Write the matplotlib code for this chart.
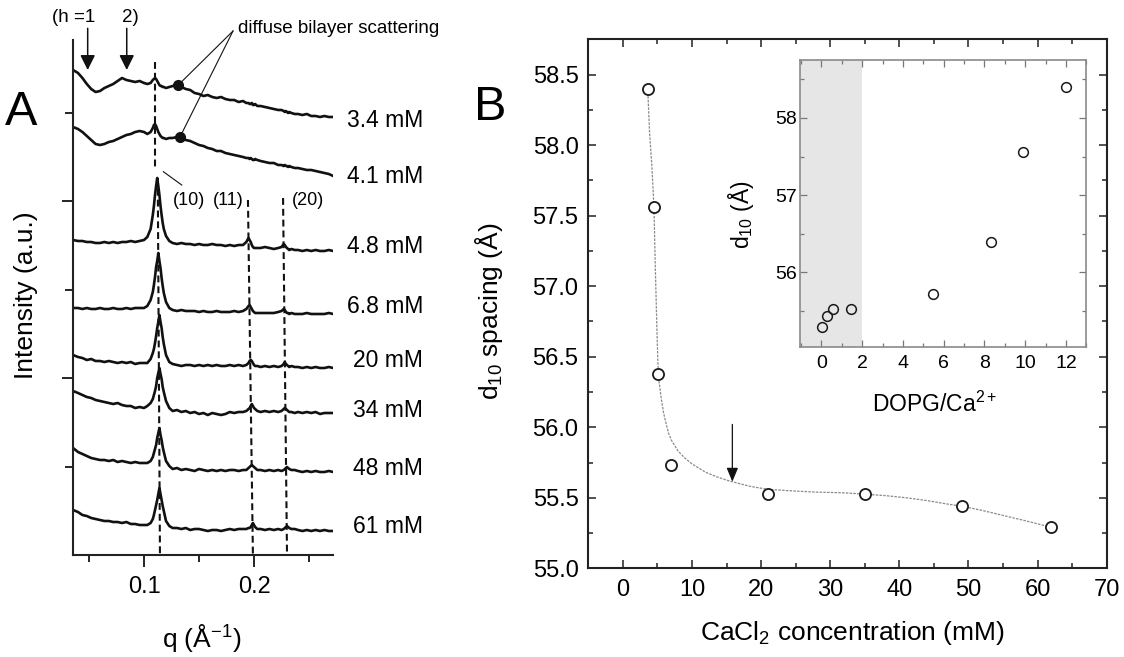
import matplotlib
matplotlib.use('Agg')
import matplotlib.pyplot as plt
from matplotlib.ticker import MultipleLocator, FixedLocator, FormatStrFormatter, NullFormatter

plt.rcParams['font.family'] = ['Liberation Sans', 'DejaVu Sans']
plt.rcParams['mathtext.fontset'] = 'custom'
plt.rcParams['mathtext.rm'] = 'Liberation Sans'
plt.rcParams['mathtext.it'] = 'Liberation Sans:italic'
plt.rcParams['mathtext.bf'] = 'Liberation Sans:bold'
plt.rcParams['mathtext.default'] = 'regular'

# ---------------- Panel A data: SAXS traces (stacked, arbitrary units) ----------------
Q = [0.0355, 0.040, 0.044, 0.048, 0.052, 0.056, 0.060, 0.064, 0.068, 0.072,
     0.076, 0.080, 0.084, 0.088, 0.092, 0.096, 0.100, 0.103, 0.106, 0.108,
     0.109, 0.110, 0.111, 0.112, 0.113, 0.114, 0.115, 0.116, 0.117, 0.118,
     0.120, 0.123, 0.126, 0.130, 0.134, 0.138, 0.142, 0.146, 0.150, 0.154,
     0.158, 0.162, 0.166, 0.170, 0.174, 0.178, 0.182, 0.186, 0.190, 0.193,
     0.195, 0.196, 0.197, 0.198, 0.199, 0.200, 0.201, 0.203, 0.206, 0.210,
     0.214, 0.218, 0.222, 0.225, 0.227, 0.228, 0.229, 0.230, 0.231, 0.232,
     0.234, 0.237, 0.240, 0.244, 0.248, 0.252, 0.256, 0.260, 0.264, 0.268, 0.272]

I_3_4 = [485, 482, 477, 471, 466, 463, 464, 467, 469, 471,
         474, 477, 475, 474, 473, 474, 472, 471, 472, 475,
         476, 477, 476, 474, 472, 470, 469, 469, 468, 468,
         467, 468, 469, 470, 468, 466, 465, 462, 461, 459,
         460, 458, 457, 458, 456, 455, 455, 453, 454, 452,
         452, 451, 451, 452, 450, 450, 451, 449, 449, 448,
         447, 446, 445, 445, 444, 443, 444, 443, 442, 443,
         442, 441, 441, 440, 441, 439, 439, 438, 439, 438, 438]
I_4_1 = [428, 426, 423, 419, 415, 411, 410, 411, 413, 414,
         416, 418, 420, 421, 423, 424, 423, 421, 423, 427,
         430, 431, 429, 426, 423, 421, 419, 418, 417, 417,
         416, 417, 417, 418, 417, 415, 414, 412, 410, 409,
         407, 406, 404, 404, 402, 401, 400, 399, 398, 397,
         397, 396, 397, 396, 395, 395, 396, 395, 394, 393,
         392, 392, 390, 390, 389, 390, 389, 389, 388, 389,
         388, 387, 387, 386, 385, 385, 384, 383, 382, 381, 379]
I_4_8 = [315, 314, 314, 313, 313, 312, 312, 313, 312, 313,
         312, 313, 313, 314, 313, 314, 315, 318, 326, 340,
         349, 360, 369, 377, 369, 360, 349, 340, 332, 326,
         319, 314, 312, 311, 312, 311, 311, 310, 311, 310,
         310, 311, 310, 310, 309, 310, 309, 310, 310, 313,
         317, 315, 313, 310, 308, 307, 307, 307, 307, 308,
         307, 306, 307, 308, 311, 310, 308, 307, 306, 305,
         306, 305, 305, 304, 305, 304, 305, 304, 304, 305, 304]
I_6_8 = [247, 247, 246, 247, 246, 246, 247, 246, 246, 247,
         246, 246, 247, 246, 247, 247, 247, 249, 255, 263,
         270, 278, 288, 294, 302, 294, 287, 277, 269, 262,
         253, 247, 245, 244, 245, 244, 244, 244, 243, 244,
         243, 243, 244, 243, 243, 243, 244, 243, 244, 246,
         249, 250, 248, 246, 244, 243, 242, 242, 242, 242,
         242, 242, 243, 244, 246, 245, 243, 242, 242, 241,
         242, 241, 241, 241, 242, 241, 241, 241, 241, 242, 241]
I_20 = [200, 198, 197, 195, 196, 194, 194, 193, 194, 193,
        192, 193, 192, 193, 191, 192, 192, 192, 196, 202,
        206, 212, 219, 227, 233, 240, 233, 227, 218, 211,
        200, 193, 191, 190, 189, 190, 190, 189, 190, 189,
        190, 189, 190, 189, 189, 190, 189, 190, 189, 190,
        192, 194, 195, 194, 192, 190, 189, 189, 188, 189,
        188, 189, 188, 189, 191, 193, 191, 190, 189, 188,
        189, 188, 188, 187, 188, 187, 188, 187, 187, 188, 187]
I_34 = [164, 162, 160, 158, 157, 155, 154, 153, 152, 151,
        152, 150, 149, 149, 147, 148, 147, 149, 152, 156,
        160, 164, 169, 177, 182, 187, 181, 176, 168, 163,
        154, 147, 144, 145, 143, 144, 142, 143, 141, 142,
        140, 142, 141, 140, 141, 143, 142, 143, 143, 144,
        146, 147, 149, 151, 149, 147, 146, 144, 143, 144,
        143, 144, 143, 144, 146, 147, 146, 145, 144, 143,
        143, 142, 143, 142, 143, 142, 143, 141, 142, 142, 142]
I_48 = [107, 103, 101, 99, 97, 96, 95, 95, 94, 95,
        93, 94, 93, 92, 93, 92, 92, 92, 94, 98,
        102, 106, 110, 117, 122, 127, 120, 115, 108, 103,
        94, 89, 86, 87, 85, 86, 85, 84, 86, 85,
        84, 85, 84, 85, 84, 85, 85, 84, 85, 85,
        87, 88, 89, 90, 89, 88, 87, 85, 85, 84,
        85, 84, 85, 84, 85, 86, 87, 88, 87, 86,
        85, 85, 84, 83, 84, 83, 84, 83, 83, 84, 83]
I_61 = [45, 43, 40, 39, 37, 36, 35, 34, 34, 33,
        33, 32, 33, 31, 31, 30, 30, 30, 32, 36,
        40, 45, 50, 55, 61, 67, 61, 55, 49, 44,
        34, 29, 27, 27, 26, 27, 25, 26, 26, 25,
        24, 25, 25, 24, 25, 26, 25, 26, 26, 26,
        27, 27, 28, 30, 32, 30, 28, 26, 26, 25,
        26, 25, 26, 25, 26, 27, 28, 29, 28, 27,
        26, 26, 25, 24, 25, 24, 25, 24, 25, 24, 24]

CURVES = [I_3_4, I_4_1, I_4_8, I_6_8, I_20, I_34, I_48, I_61]
CONC_LABELS = ['3.4 mM', '4.1 mM', '4.8 mM', '6.8 mM', '20 mM', '34 mM', '48 mM', '61 mM']

# peak-position guide lines (q, intensity end points)
GUIDE_10_UPPER_Q = [0.110, 0.110]
GUIDE_10_UPPER_I = [493, 385]
GUIDE_10_Q = [0.1125, 0.1145]
GUIDE_10_I = [377, 0]
GUIDE_11_Q = [0.1945, 0.199]
GUIDE_11_I = [355, 0]
GUIDE_20_Q = [0.2264, 0.230]
GUIDE_20_I = [357, 0]
PEAK_LABELS = ['(10)', '(11)', '(20)']

# lamellar (h = 1, 2) arrows and diffuse scattering markers
H_ARROW_Q = [0.0488, 0.0843]
H_ARROW_TOP = 526.7
H_ARROW_TIP = 485
DIFFUSE_Q = [0.1312, 0.1327]
DIFFUSE_I = [470, 418]
DIFFUSE_ORIGIN_Q = 0.1809
DIFFUSE_ORIGIN_I = 524

# ---------------- Panel B data ----------------
CACL2_MM = [3.6, 4.5, 5.1, 7.0, 21.0, 35.1, 49.1, 62.0]
D10 = [58.40, 57.56, 56.38, 55.73, 55.53, 55.53, 55.44, 55.29]
FIT_X = [3.6, 3.86, 4.2, 4.5, 4.69, 4.93, 5.07, 5.25, 5.56, 5.9, 6.28, 6.6, 7.0, 7.5,
         8.0, 9.0, 10.0, 11.0, 12.0, 13.5, 15.0, 16.5, 18.5, 21.0, 24.0, 28.0, 32.0,
         35.1, 38.0, 41.0, 44.0, 47.0, 49.1, 52.0, 55.0, 58.0, 62.0]
FIT_D = [58.40, 58.09, 57.85, 57.56, 57.14, 56.69, 56.45, 56.32, 56.20, 56.10, 56.02,
         55.96, 55.91, 55.87, 55.83, 55.78, 55.74, 55.71, 55.68, 55.65, 55.625, 55.605,
         55.58, 55.56, 55.55, 55.54, 55.535, 55.525, 55.515, 55.50, 55.48, 55.455,
         55.44, 55.41, 55.375, 55.34, 55.29]
ARROW_MM = 15.84
ARROW_D_TOP = 56.02
ARROW_D_TIP = 55.614

# inset: same d10 values against DOPG/Ca2+ ratio
RATIO = [12.0, 9.9, 8.3, 5.5, 1.47, 0.57, 0.26, 0.04]
D10_INSET = [58.40, 57.56, 56.39, 55.72, 55.53, 55.53, 55.44, 55.29]
SHADE_RATIO_MAX = 2.0

# ---------------- layout helpers ----------------
W, H = 1124, 657
def fx(px):
    return px / W
def fy(py):
    return 1 - py / H

fig = plt.figure(figsize=(W / 100, H / 100), dpi=100)
INK = '#111111'

# ================= Panel A =================
axA = fig.add_axes([fx(73), fy(555), (333 - 73) / W, (555 - 40) / H])
for I in CURVES:
    axA.plot(Q, I, color=INK, lw=1.9, solid_joinstyle='round')
axA.set_xlim(0.03545, 0.2718)
axA.set_ylim(0, 515)
for s in ['top', 'right']:
    axA.spines[s].set_visible(False)
for s in ['left', 'bottom']:
    axA.spines[s].set_linewidth(1.5)
    axA.spines[s].set_color('#222222')
axA.xaxis.set_major_locator(FixedLocator([0.1, 0.2]))
axA.xaxis.set_minor_locator(FixedLocator([0.05, 0.15, 0.25]))
axA.xaxis.set_major_formatter(FormatStrFormatter('%.1f'))
axA.yaxis.set_major_locator(FixedLocator([177, 354]))
axA.yaxis.set_minor_locator(FixedLocator([88.5, 265.5, 442.5]))
axA.yaxis.set_major_formatter(NullFormatter())
axA.tick_params(axis='x', which='major', direction='out', length=8.4, width=1.2,
                labelsize=17, pad=7.0)
axA.tick_params(axis='x', which='minor', direction='out', length=5, width=1.2)
axA.tick_params(axis='y', which='major', direction='out', length=8, width=1.2)
axA.tick_params(axis='y', which='minor', direction='out', length=5.8, width=1.2)

dash_kw = dict(color=INK, lw=1.5, dashes=(3.3, 1.9), clip_on=False)
axA.plot(GUIDE_10_UPPER_Q, GUIDE_10_UPPER_I, **dash_kw)
axA.plot(GUIDE_10_Q, GUIDE_10_I, **dash_kw)
axA.plot(GUIDE_11_Q, GUIDE_11_I, **dash_kw)
axA.plot(GUIDE_20_Q, GUIDE_20_I, **dash_kw)

# (10) leader line
axA.plot([0.1176, 0.1343], [383.3, 370], color=INK, lw=0.8)

# h arrows
for qa in H_ARROW_Q:
    axA.annotate('', xy=(qa, H_ARROW_TIP), xytext=(qa, H_ARROW_TOP),
                 annotation_clip=False,
                 arrowprops=dict(arrowstyle='-|>,head_length=0.6,head_width=0.3',
                                 color=INK, lw=1.1, shrinkA=0, shrinkB=0,
                                 mutation_scale=15))

# diffuse scattering pointers
for qd, idd in zip(DIFFUSE_Q, DIFFUSE_I):
    axA.plot([DIFFUSE_ORIGIN_Q, qd], [DIFFUSE_ORIGIN_I, idd], color=INK, lw=0.8,
             clip_on=False)
axA.plot(DIFFUSE_Q, DIFFUSE_I, 'o', ms=7, color=INK, clip_on=False)

# panel A texts
fig.text(fx(5), fy(125), 'A', fontsize=35, ha='left', va='baseline')
fig.text(fx(52), fy(22), '(h =1', fontsize=13.5, ha='left', va='baseline')
fig.text(fx(122), fy(22), '2)', fontsize=13.5, ha='left', va='baseline')
fig.text(fx(238), fy(33), 'diffuse bilayer scattering', fontsize=13.5, ha='left', va='baseline')
for lab, xl in zip(PEAK_LABELS, [173, 213, 292]):
    fig.text(fx(xl), fy(205), lab, fontsize=13, ha='left', va='baseline')
for lab, yb in zip(CONC_LABELS, [126.7, 183, 253, 313.3, 366.7, 416.7, 475, 533.3]):
    fig.text(fx(423), fy(yb), lab, fontsize=16.5, ha='right', va='baseline')
fig.text(fx(26), fy(295), 'Intensity (a.u.)', rotation=90, fontsize=19,
         ha='center', va='center')
fig.text(fx(202), fy(647), 'q (Å$^{-1}$)', fontsize=19, ha='center', va='baseline')

# ================= Panel B =================
axB = fig.add_axes([fx(588.3), fy(568.3), (1106.7 - 588.3) / W, (568.3 - 39.3) / H])
axB.plot(FIT_X, FIT_D, color='#8a8a8a', lw=0.9, ls=(0, (2, 1)), zorder=1)
axB.plot(CACL2_MM, D10, 'o', ms=8, mfc='white', mec='#1a1a1a', mew=1.3, zorder=3)
axB.annotate('', xy=(ARROW_MM, ARROW_D_TIP), xytext=(ARROW_MM, ARROW_D_TOP),
             arrowprops=dict(arrowstyle='-|>,head_length=0.6,head_width=0.25',
                             color=INK, lw=0.9, shrinkA=0, shrinkB=0,
                             mutation_scale=14))
axB.set_xlim(-5, 70)
axB.set_ylim(55.0, 58.75)
axB.xaxis.set_major_locator(MultipleLocator(10))
axB.xaxis.set_minor_locator(MultipleLocator(5))
axB.yaxis.set_major_locator(MultipleLocator(0.5))
axB.yaxis.set_minor_locator(MultipleLocator(0.25))
axB.yaxis.set_major_formatter(FormatStrFormatter('%.1f'))
axB.tick_params(which='both', direction='in', top=True, right=True, width=1.1,
                color='#222222', labelsize=17)
axB.tick_params(which='major', length=6)
axB.tick_params(which='minor', length=3.8)
axB.tick_params(axis='x', pad=8)
axB.tick_params(axis='y', pad=7)
for s in axB.spines.values():
    s.set_linewidth(1.5)
    s.set_color('#222222')

fig.text(fx(474), fy(120), 'B', fontsize=35, ha='left', va='baseline')
fig.text(fx(852), fy(640), 'CaCl$_2$ concentration (mM)', fontsize=19,
         ha='center', va='baseline')
fig.text(fx(489), fy(311), 'd$_{10}$ spacing (Å)', rotation=90, fontsize=19,
         ha='center', va='center')

# ---------------- inset ----------------
axI = fig.add_axes([fx(800), fy(347.3), (1086.3 - 800) / W, (347.3 - 60) / H])
axI.set_xlim(-1.05, 13.0)
axI.set_ylim(55.03, 58.75)
axI.axvspan(-1.05, SHADE_RATIO_MAX, color='#e6e6e6', lw=0, zorder=0)
axI.plot(RATIO, D10_INSET, 'o', ms=7, mfc='none', mec='#1a1a1a', mew=1.1, zorder=3)
axI.xaxis.set_major_locator(MultipleLocator(2))
axI.xaxis.set_minor_locator(MultipleLocator(1))
axI.yaxis.set_major_locator(MultipleLocator(1))
axI.yaxis.set_minor_locator(MultipleLocator(0.5))
axI.yaxis.set_major_formatter(FormatStrFormatter('%d'))
axI.tick_params(which='both', direction='in', top=True, right=True, width=0.9,
                color='#777777', labelsize=14)
axI.tick_params(which='major', length=4.8)
axI.tick_params(which='minor', length=2.9)
axI.tick_params(axis='x', pad=5.5)
axI.tick_params(axis='y', pad=2.5)
for s in axI.spines.values():
    s.set_linewidth(1.2)
    s.set_color('#8a8a8a')

fig.text(fx(934.5), fy(411.7), 'DOPG/Ca$^{2+}$', fontsize=16.5, ha='center', va='baseline')
fig.text(fx(741), fy(215), 'd$_{10}$ (Å)', rotation=90, fontsize=16.5,
         ha='center', va='center')

fig.savefig('out.png', dpi=100)
